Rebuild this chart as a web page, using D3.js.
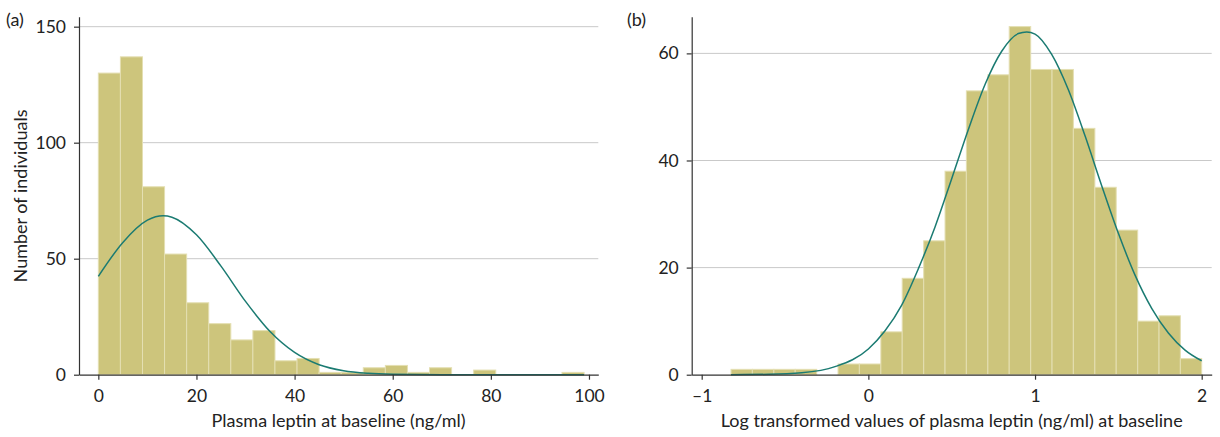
<!DOCTYPE html>
<html>
<head>
<meta charset="utf-8">
<script src="https://cdn.jsdelivr.net/npm/d3@7"></script>
<style>
  body { margin: 0; background: #fff; }
  svg { display: block; font-family: Lato, 'Open Sans', sans-serif; }
</style>
</head>
<body>
<svg id="chart" width="1220" height="437"></svg>
<script>
// (a) raw leptin histogram, bins of 4.5 ng/ml
var leptinEdges = [0, 4.5, 9, 13.5, 18, 22.5, 27, 31.5, 36, 40.5, 45, 49.5, 54, 58.5, 63, 67.5, 72, 76.5, 81, 85.5, 90, 94.5, 99];
var leptinCounts = [130, 137, 81, 52, 31, 22, 15, 19, 6, 7, 1, 1, 3, 4, 1, 3, 0, 2, 0, 0, 0, 1];
// fitted normal curve
var leptinCurveX = [0, 5, 10, 13.2, 15, 20, 25, 30, 35, 40, 45, 50, 55, 60, 70, 80, 90, 99];
var leptinCurveY = [42.4, 57, 66.6, 68.5, 67.9, 60.3, 46.8, 31.6, 18.6, 9.6, 4.3, 1.7, 0.6, 0.2, 0, 0, 0, 0];

// (b) log10 leptin histogram
var logEdges = [-0.824, -0.696, -0.567, -0.439, -0.310, -0.182, -0.054, 0.075, 0.203, 0.332, 0.460, 0.588,
  0.717, 0.845, 0.974, 1.102, 1.230, 1.359, 1.487, 1.616, 1.744, 1.872, 2.000];
var logCounts = [1, 1, 1, 1, 0, 2, 2, 8, 18, 25, 38, 53, 56, 65, 57, 57, 46, 35, 27, 10, 11, 3];
var logCurveX = [-0.824, -0.6, -0.4, -0.2, 0, 0.1, 0.2, 0.3, 0.4, 0.5, 0.6, 0.7, 0.8, 0.9, 0.95,
  1.0, 1.1, 1.2, 1.3, 1.4, 1.5, 1.6, 1.7, 1.8, 1.9, 2.0];
var logCurveY = [0.01, 0.07, 0.35, 1.5, 4.8, 8.2, 13, 19.8, 27.6, 36.6, 45.8, 54.2, 60.4, 63.7, 64,
  63.6, 59.8, 53.2, 44.6, 35.3, 26.4, 18.6, 12.4, 7.8, 4.6, 2.6];

var leftTicksX = [0, 20, 40, 60, 80, 100];
var leftTicksY = [0, 50, 100, 150];
var rightTicksX = [-1, 0, 1, 2];
var rightTicksY = [0, 20, 40, 60];

var barFill = '#cdc57c';
var barEdge = '#e4dfb2';
var curveColor = '#1b7b72';
var gridColor = '#c9c9c9';
var axisColor = '#333';

var svg = d3.select('#chart');

function panel(opts) {
  var g = svg.append('g');
  var x = d3.scaleLinear().domain(opts.xDomain).range(opts.xRange);
  var y = d3.scaleLinear().domain(opts.yDomain).range([374.7, 16.7]);

  // gridlines
  g.selectAll('.grid')
    .data(opts.yTicks.filter(d => d > 0))
    .enter()
    .append('line')
    .attr('x1', opts.xRange[0])
    .attr('x2', opts.xRange[1])
    .attr('y1', d => y(d))
    .attr('y2', d => y(d))
    .style('stroke', gridColor)
    .style('stroke-width', 1);

  // bars
  var bins = opts.counts.map((c, i) => ({ x0: opts.edges[i], x1: opts.edges[i + 1], n: c }));
  g.selectAll('.bar')
    .data(bins.filter(d => d.n > 0))
    .enter()
    .append('rect')
    .attr('x', d => x(d.x0))
    .attr('width', d => x(d.x1) - x(d.x0))
    .attr('y', d => y(d.n))
    .attr('height', d => y(0) - y(d.n))
    .style('fill', barFill)
    .style('stroke', barEdge)
    .style('stroke-width', 1);

  // normal curve
  var line = d3.line()
    .x(d => x(d[0]))
    .y(d => y(d[1]))
    .curve(d3.curveMonotoneX);
  g.append('path')
    .datum(opts.curveX.map((v, i) => [v, opts.curveY[i]]))
    .attr('d', line)
    .style('fill', 'none')
    .style('stroke', curveColor)
    .style('stroke-width', 1.5);

  // axes
  var xAxis = d3.axisBottom(x).tickValues(opts.xTicks).tickSize(5).tickSizeOuter(0).tickPadding(10)
    .tickFormat(opts.xFormat);
  var xg = g.append('g')
    .attr('transform', 'translate(0,' + y(0) + ')')
    .call(xAxis);
  var yAxis = d3.axisLeft(y).tickValues(opts.yTicks).tickSize(5).tickSizeOuter(0).tickPadding(8);
  var yg = g.append('g')
    .attr('transform', 'translate(' + opts.xRange[0] + ',0)')
    .call(yAxis);
  [xg, yg].forEach(a => {
    a.select('.domain').style('stroke', axisColor).style('stroke-width', 1.2);
    a.selectAll('.tick line').style('stroke', axisColor).style('stroke-width', 1.2);
    a.selectAll('.tick text')
      .style('font-family', 'Lato, sans-serif')
      .style('font-size', '17.5px')
      .style('fill', '#222');
  });

  // axis titles
  g.append('text')
    .attr('x', (opts.xRange[0] + opts.xRange[1]) / 2)
    .attr('y', 427)
    .style('text-anchor', 'middle')
    .style('font-size', '18px')
    .style('fill', '#222')
    .text(opts.xTitle);
  if (opts.yTitle) {
    g.append('text')
      .attr('transform', 'translate(' + opts.yTitleX + ',196) rotate(-90)')
      .style('text-anchor', 'middle')
      .style('font-size', '18px')
      .style('fill', '#222')
      .text(opts.yTitle);
  }
  g.append('text')
    .attr('x', opts.labelX)
    .attr('y', 26)
    .style('font-size', '18px')
    .style('fill', '#222')
    .text(opts.label);
}

panel({
  edges: leptinEdges, counts: leptinCounts,
  curveX: leptinCurveX, curveY: leptinCurveY,
  xDomain: [-3.94, 101.9], xRange: [79, 598.3],
  yDomain: [0, 154.3],
  xTicks: leftTicksX, yTicks: leftTicksY,
  xFormat: d3.format('d'),
  xTitle: 'Plasma leptin at baseline (ng/ml)',
  yTitle: 'Number of individuals', yTitleX: 27,
  label: '(a)', labelX: 6
});

panel({
  edges: logEdges, counts: logCounts,
  curveX: logCurveX, curveY: logCurveY,
  xDomain: [-1.06, 2.06], xRange: [691.7, 1211.7],
  yDomain: [0, 66.85],
  xTicks: rightTicksX, yTicks: rightTicksY,
  xFormat: d => d < 0 ? '\u2013' + Math.abs(d) : String(d),
  xTitle: 'Log transformed values of plasma leptin (ng/ml) at baseline',
  label: '(b)', labelX: 627
});
</script>
</body>
</html>
